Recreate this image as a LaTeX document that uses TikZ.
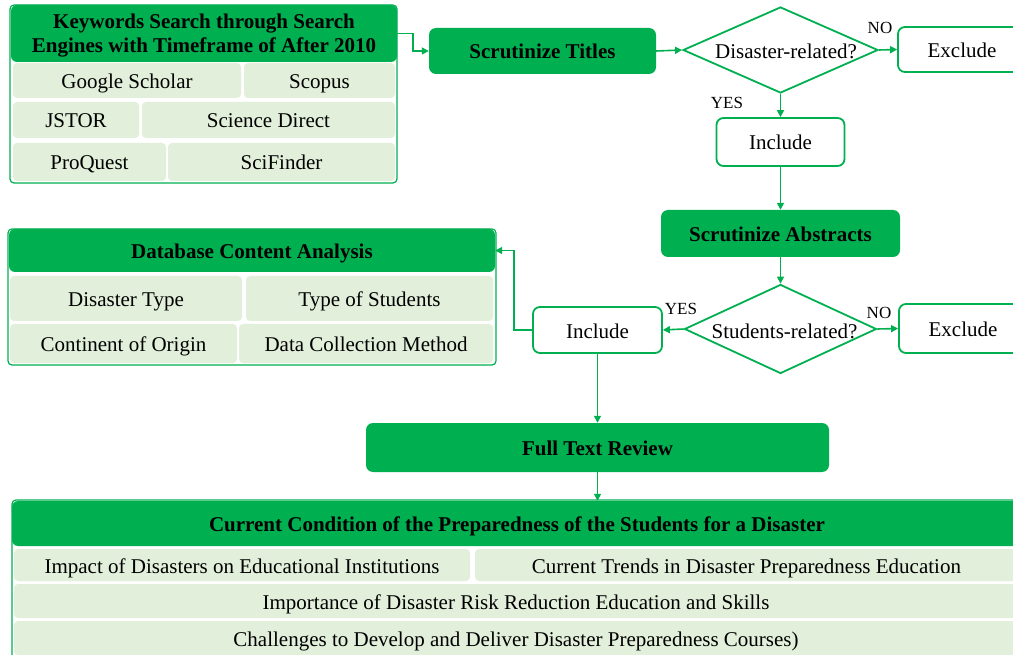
\documentclass[tikz,border=0pt]{standalone}
\usepackage{fontspec}
\setmainfont{Liberation Serif}
\usetikzlibrary{shapes.geometric,arrows.meta}
\definecolor{hgreen}{RGB}{0,176,80}
\definecolor{cgreen}{RGB}{226,239,218}
\begin{document}
\begin{tikzpicture}[x=1pt,y=-1pt,
  every node/.style={font=\fontsize{21}{25}\selectfont, text=black},
  tx/.style={text height=19pt, text depth=3pt},
  hdr/.style={fill=hgreen, rounded corners=6pt, inner sep=0pt, tx, font=\fontsize{21}{25}\selectfont\bfseries},
  cell/.style={fill=cgreen, rounded corners=4pt, inner sep=0pt, tx},
  frame/.style={draw=hgreen, line width=1.2pt, rounded corners=4pt, fill=white, inner sep=0pt},
  wbox/.style={draw=hgreen, line width=1.8pt, rounded corners=7pt, fill=white, inner sep=0pt, tx},
  dia/.style={diamond, draw=hgreen, line width=1.8pt, fill=white, inner sep=0pt},
  conn/.style={draw=hgreen, line width=1.6pt, -{Triangle[length=7pt,width=7pt]}},
  lbl/.style={font=\fontsize{17}{20}\selectfont, inner sep=0pt}]
\clip (0,0) rectangle (1013,655);
\fill[white] (0,0) rectangle (1013,655);

% Keywords block
\node[frame, minimum width=387pt, minimum height=178pt] (kwframe) at (203.5,94) {};
\node[fill=hgreen, rounded corners=6pt, inner sep=0pt, minimum width=386pt, minimum height=57pt] (kw) at (204,33.5) {};
\node[inner sep=0pt, align=center, font=\fontsize{21}{24}\selectfont\bfseries] (kwt) at (204,35.5) {Keywords Search through Search\\Engines with Timeframe of After 2010};
\node[cell, minimum width=228pt, minimum height=35pt] (gs) at (127,80.5) {Google Scholar};
\node[cell, minimum width=151pt, minimum height=35pt] (sc) at (319.5,80.5) {Scopus};
\node[cell, minimum width=126pt, minimum height=36pt] (js) at (76,120) {JSTOR};
\node[cell, minimum width=253pt, minimum height=36pt] (sd) at (268.5,120) {Science Direct};
\node[cell, minimum width=153pt, minimum height=38pt] (pq) at (89.5,162) {ProQuest};
\node[cell, minimum width=227pt, minimum height=38pt] (sf) at (281.5,162) {SciFinder};

% Titles
\node[hdr, rounded corners=7pt, minimum width=227pt, minimum height=46pt] (titles) at (542.5,51) {Scrutinize Titles};
\node[dia, minimum width=195pt, minimum height=86pt] (d1) at (780.5,50) {};
\node[inner sep=0pt, tx] (d1t) at (786,51) {Disaster-related?};
\node[wbox, minimum width=128pt, minimum height=45pt] (ex1) at (962,49.5) {Exclude};
\node[lbl] (no1) at (880,28) {NO};
\node[lbl] (yes1) at (727,103) {YES};
\node[wbox, minimum width=128pt, minimum height=48pt] (inc1) at (780.5,142) {Include};

% Abstracts
\node[hdr, rounded corners=7pt, minimum width=239pt, minimum height=47pt] (abs) at (780.5,233.5) {Scrutinize Abstracts};
\node[dia, minimum width=192pt, minimum height=89pt] (d2) at (780.5,329) {};
\node[inner sep=0pt, tx] (d2t) at (784.5,330) {Students-related?};
\node[wbox, minimum width=128pt, minimum height=49pt] (ex2) at (963,328.5) {Exclude};
\node[lbl] (no2) at (879,313) {NO};
\node[lbl] (yes2) at (681,309) {YES};
\node[wbox, minimum width=129pt, minimum height=46pt] (inc2) at (597.5,330) {Include};

% Database content analysis
\node[frame, minimum width=488pt, minimum height=136pt] (dcaframe) at (252,297) {};
\node[hdr, minimum width=486pt, minimum height=43pt] (dca) at (252,250.5) {Database Content Analysis};
\node[cell, minimum width=232pt, minimum height=45pt] (dt) at (126,298.5) {Disaster Type};
\node[cell, minimum width=247pt, minimum height=45pt] (ts) at (369.5,298.5) {Type of Students};
\node[cell, minimum width=227pt, minimum height=39pt] (co) at (123.5,343.5) {Continent of Origin};
\node[cell, minimum width=254pt, minimum height=39pt] (dc) at (366,343.5) {Data Collection Method};

% Full text review
\node[hdr, rounded corners=7pt, minimum width=463pt, minimum height=49pt] (ftr) at (597.5,447.5) {Full Text Review};

% Current condition block
\node[frame, minimum width=1010pt, minimum height=170pt] (ccframe) at (517,585) {};
\node[hdr, minimum width=1010pt, minimum height=45pt] (cc) at (517,523.5) {Current Condition of the Preparedness of the Students for a Disaster};
\node[cell, minimum width=456pt, minimum height=32pt] (imp) at (242,565) {Impact of Disasters on Educational Institutions};
\node[cell, minimum width=543pt, minimum height=32pt] (tr) at (746.5,565) {Current Trends in Disaster Preparedness Education};
\node[cell, minimum width=1004pt, minimum height=34pt] (im) at (516,601) {Importance of Disaster Risk Reduction Education and Skills};
\node[cell, minimum width=1004pt, minimum height=34pt] (ch) at (516,638) {Challenges to Develop and Deliver Disaster Preparedness Courses)};

% Connectors
\coordinate (k1) at (413,33.5);
\draw[conn] (kw.east) -- (k1) |- (titles.west);
\draw[conn] (titles.east) -- (d1.west);
\draw[conn] (d1.east) -- (ex1.west);
\draw[conn] (d1.south) -- (inc1.north);
\draw[conn] (inc1.south) -- (abs.north);
\draw[conn] (abs.south) -- (d2.north);
\draw[conn] (d2.east) -- (ex2.west);
\draw[conn] (d2.west) -- (inc2.east);
\coordinate (c2) at (514,330);
\draw[conn] (inc2.west) -- (c2) |- (dca.east);
\draw[conn] (inc2.south) -- (inc2.south |- ftr.north);
\draw[conn] (ftr.south) -- (ftr.south |- cc.north);
\end{tikzpicture}
\end{document}
